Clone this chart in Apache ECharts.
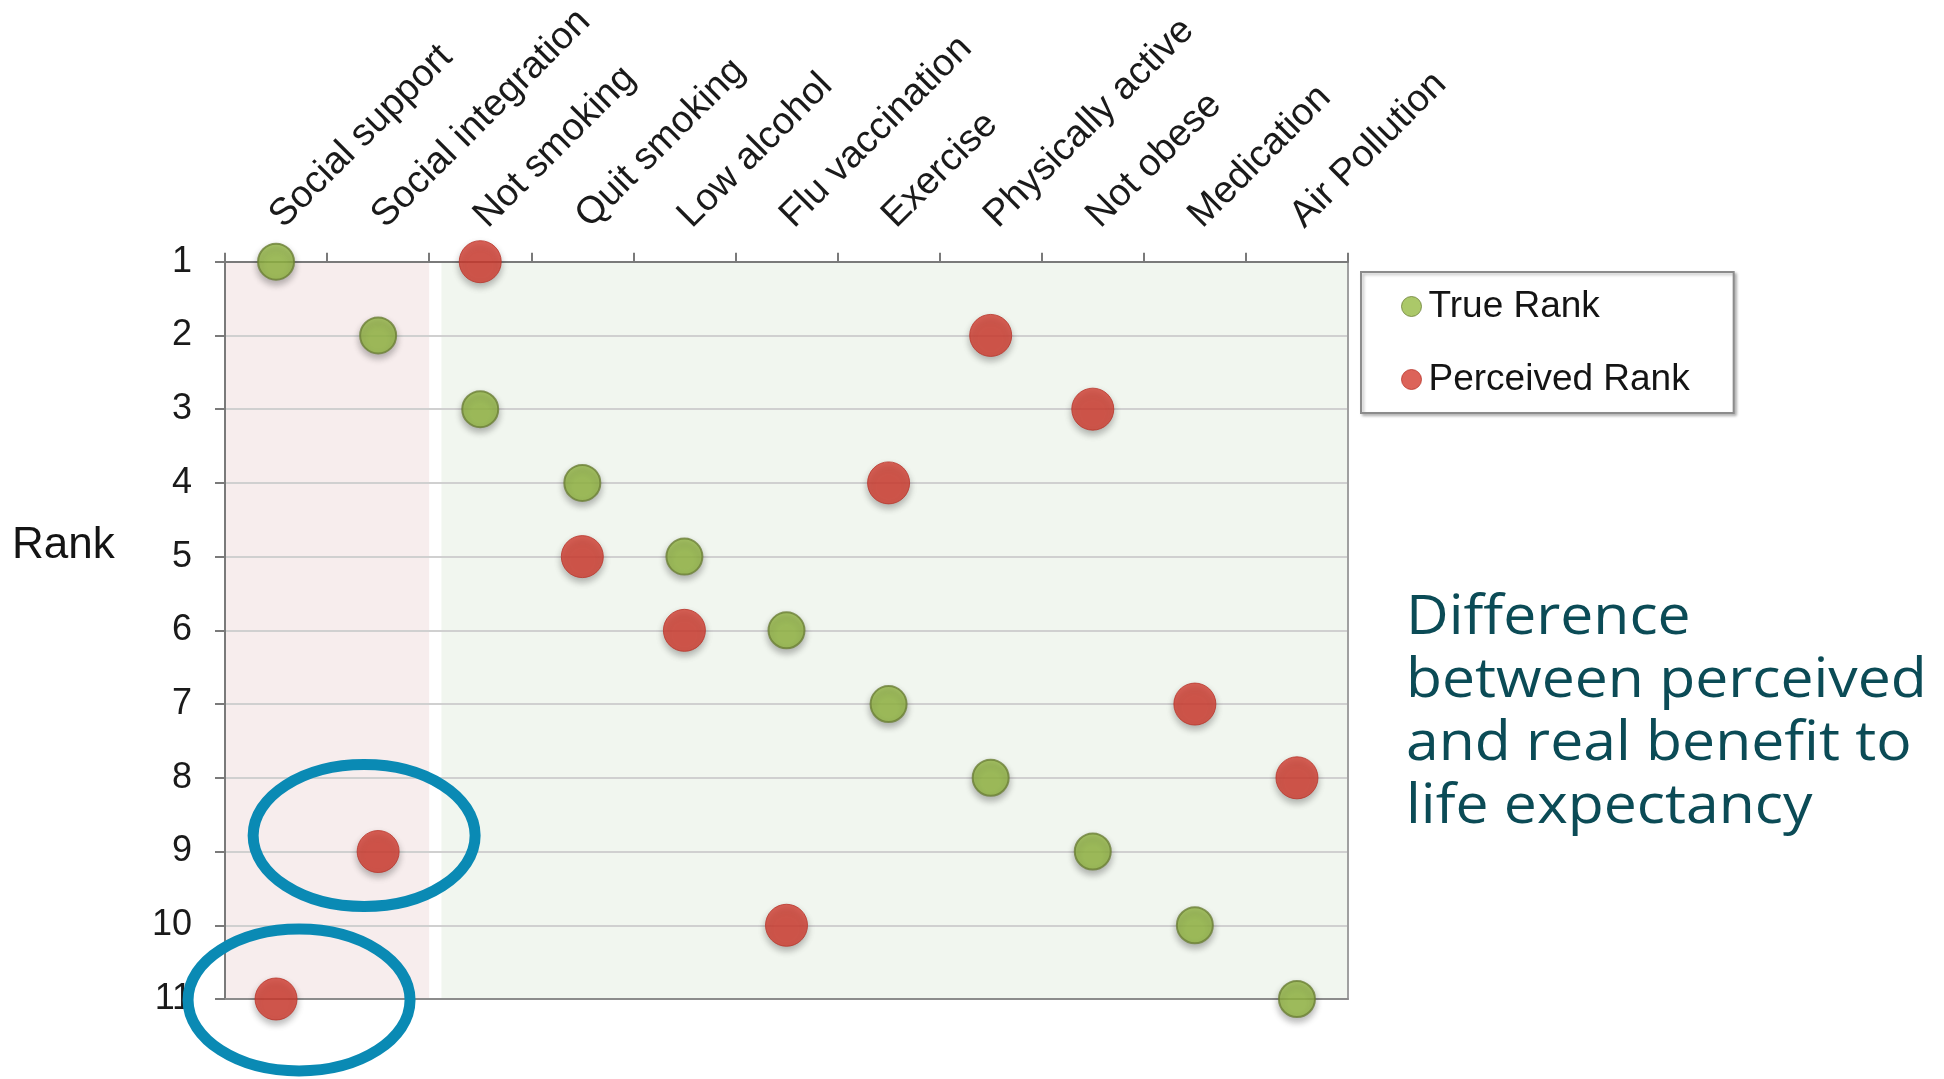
<!DOCTYPE html>
<html>
<head>
<meta charset="utf-8">
<script src="https://cdn.jsdelivr.net/npm/echarts@6/dist/echarts.min.js"></script>
<style>
  html, body { margin: 0; padding: 0; background: #ffffff; }
  #chart { width: 1944px; height: 1079px; }
</style>
</head>
<body>
<div id="chart"></div>
<script>
// Health behaviours, ordered by their true benefit to life expectancy
const categories = [
  'Social support', 'Social integration', 'Not smoking', 'Quit smoking',
  'Low alcohol', 'Flu vaccination', 'Exercise', 'Physically active',
  'Not obese', 'Medication', 'Air Pollution'
];
const trueRank      = [1, 2, 3, 4, 5, 6, 7, 8, 9, 10, 11];
const perceivedRank = [11, 9, 1, 5, 6, 10, 4, 2, 3, 7, 8];
const rankMin = 1;
const rankMax = 11;

const seriesNames = ['True Rank', 'Perceived Rank'];
const noteLines = ['Difference', 'between perceived', 'and real benefit to', 'life expectancy'];

const FONT = '"Liberation Sans", Arial, sans-serif';
const GREEN = '#96ba44';
const RED = '#d33c2f';
const CIRCLE = '#0a8ab4';

const chart = echarts.init(document.getElementById('chart'), null, { renderer: 'canvas' });

const markerShadow = {
  shadowBlur: 7,
  shadowOffsetY: 4,
  shadowColor: 'rgba(0,0,0,0.35)'
};

chart.setOption({
  animation: false,
  backgroundColor: '#ffffff',
  grid: { left: 225, right: 596, top: 255, bottom: 80, containLabel: false },
  legend: {
    data: seriesNames,
    orient: 'vertical',
    left: 1361,
    top: 272,
    padding: [16, 44, 15, 40],
    itemGap: 36,
    itemWidth: 20,
    itemHeight: 20,
    icon: 'circle',
    backgroundColor: '#ffffff',
    borderColor: '#8c8c8c',
    borderWidth: 2,
    shadowColor: 'rgba(0,0,0,0.25)',
    shadowBlur: 3,
    shadowOffsetX: 2,
    shadowOffsetY: 2,
    itemStyle: { shadowBlur: 0, shadowOffsetY: 0, borderWidth: 1 },
    textStyle: { fontFamily: FONT, fontSize: 37, color: '#141414', padding: [0, 0, 0, 2] },
    selectedMode: false
  },
  xAxis: [
    {
      type: 'category',
      position: 'top',
      data: categories,
      boundaryGap: true,
      z: 3,
      axisLine: { show: true, onZero: false, lineStyle: { color: '#7a7a7a', width: 2 } },
      axisTick: { show: true, length: 9, lineStyle: { color: '#7a7a7a', width: 2 } },
      axisLabel: {
        interval: 0,
        rotate: -45,
        margin: 40,
        verticalAlign: 'middle',
        fontFamily: FONT,
        fontSize: 38,
        color: '#1a1a1a'
      },
      splitLine: { show: false }
    },
    {
      type: 'value',
      position: 'bottom',
      min: -0.5,
      max: 10.5,
      z: 3,
      axisLine: { show: true, onZero: false, lineStyle: { color: '#8c8c8c', width: 2 } },
      axisTick: { show: false },
      axisLabel: { show: false },
      splitLine: { show: false }
    }
  ],
  yAxis: [
    {
      type: 'value',
      min: rankMin,
      max: rankMax,
      interval: 1,
      inverse: true,
      position: 'left',
      z: 3,
      axisLine: { show: true, onZero: false, lineStyle: { color: '#7a7a7a', width: 2 } },
      axisTick: { show: true, length: 10, lineStyle: { color: '#7a7a7a', width: 2 } },
      axisLabel: { margin: 33, fontFamily: FONT, fontSize: 36, color: '#1a1a1a' },
      splitLine: { show: true, lineStyle: { color: '#d0d0d0', width: 2 } }
    },
    {
      type: 'value',
      min: rankMin,
      max: rankMax,
      inverse: true,
      position: 'right',
      z: 3,
      axisLine: { show: true, onZero: false, lineStyle: { color: '#a0a0a0', width: 2 } },
      axisTick: { show: false },
      axisLabel: { show: false },
      splitLine: { show: false }
    }
  ],
  series: [
    {
      // shaded bands: social factors vs. the rest
      name: 'bands',
      type: 'line',
      xAxisIndex: 1,
      yAxisIndex: 0,
      data: [],
      silent: true,
      z: 1,
      markArea: {
        silent: true,
        data: [
          [{ xAxis: -0.5, yAxis: rankMin, itemStyle: { color: '#f7eded' } }, { xAxis: 1.5, yAxis: rankMax }],
          [{ xAxis: 1.62, yAxis: rankMin, itemStyle: { color: '#f1f6ef' } }, { xAxis: 10.5, yAxis: rankMax }]
        ]
      }
    },
    {
      name: seriesNames[0],
      type: 'scatter',
      xAxisIndex: 0,
      yAxisIndex: 0,
      z: 5,
      symbol: 'circle',
      symbolSize: 36,
      data: categories.map((c, i) => [c, trueRank[i]]),
      itemStyle: Object.assign({ color: GREEN, borderColor: '#6b8036', borderWidth: 2 }, markerShadow)
    },
    {
      name: seriesNames[1],
      type: 'scatter',
      xAxisIndex: 0,
      yAxisIndex: 0,
      z: 5,
      symbol: 'circle',
      symbolSize: 42,
      data: categories.map((c, i) => [c, perceivedRank[i]]),
      itemStyle: Object.assign({ color: RED, borderColor: '#b9342a', borderWidth: 1 }, markerShadow)
    }
  ]
});

// Highlight rings around the two most underestimated factors
function ringAround(category, rank, dx, dy) {
  const p = chart.convertToPixel({ xAxisIndex: 0, yAxisIndex: 0 }, [category, rank]);
  return {
    type: 'ellipse',
    z: 20,
    silent: true,
    shape: { cx: p[0] + dx, cy: p[1] + dy, rx: 111, ry: 71 },
    style: { fill: 'none', stroke: CIRCLE, lineWidth: 11 }
  };
}

chart.setOption({
  graphic: [
    {
      type: 'text',
      left: 12,
      top: 524,
      z: 10,
      style: { text: 'Rank', fontFamily: FONT, fontSize: 44, fill: '#141414' }
    },
    {
      type: 'text',
      x: 1406,
      y: 587,
      scaleX: 1.09,
      z: 10,
      style: {
        text: noteLines.join('\n'),
        fontFamily: '"Open Sans", Lato, sans-serif',
        fontWeight: 'normal',
        fontSize: 54,
        lineHeight: 63,
        fill: '#0b4b56'
      }
    },
    ringAround(categories[1], perceivedRank[1], -14, -16),
    ringAround(categories[0], perceivedRank[0], 23, 1)
  ]
});
</script>
</body>
</html>
